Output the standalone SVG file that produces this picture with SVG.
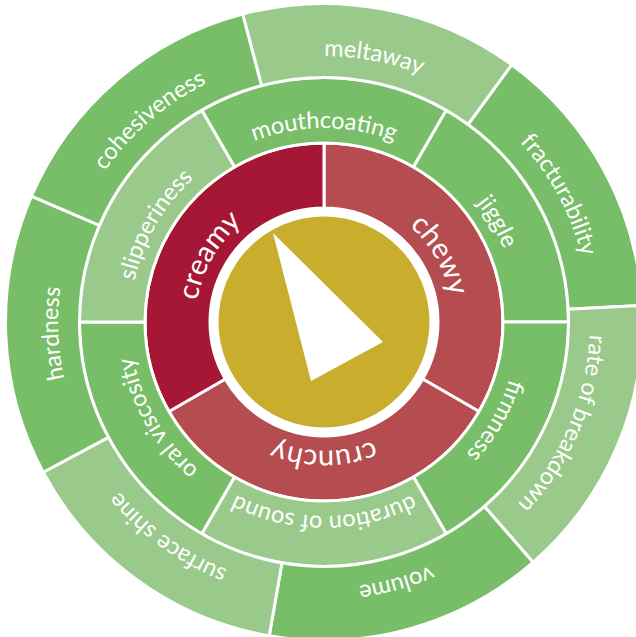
<svg xmlns="http://www.w3.org/2000/svg" xmlns:xlink="http://www.w3.org/1999/xlink" width="636" height="637" viewBox="0 0 636 637">
  <style>
    .seg { stroke: #ffffff; stroke-width: 3; stroke-linejoin: miter; }
    .dark { fill: #78BE68; }
    .light { fill: #99CA8B; }
    .deep { fill: #A51735; }
    .rose { fill: #B44C50; }
    .lbl { font-family: Lato, "Open Sans", "DejaVu Sans", sans-serif; fill: #ffffff; text-anchor: middle; }
    .g { font-size: 23.5px; }
    .r { font-size: 29px; }
  </style>
  <defs>
    <!-- baseline arcs centred on the top, rotated into place per label -->
    <path id="arcRed" d="M-126.6,-22.32 A128.55,128.55 0 0 1 126.6,-22.32"/>
    <path id="arcMid" d="M-190.95,-33.67 A193.9,193.9 0 0 1 190.95,-33.67"/>
    <path id="arcOut" d="M-261.86,-46.17 A265.9,265.9 0 0 1 261.86,-46.17"/>
  </defs>

  <!-- hub -->
  <g id="hub">
    <circle cx="324" cy="322" r="105.5" fill="#C9AE2E"/>
    <polygon points="273,233 383,342 311,381" fill="#ffffff"/>
  </g>

  <!-- inner ring -->
  <g id="chewy">
    <path class="seg rose" d="M324,143 A179,179 0 0 1 479.02,411.5 L422.73,379 A114,114 0 0 0 324,208 Z"/>
    <text class="lbl r" transform="translate(324 322) rotate(60)"><textPath xlink:href="#arcRed" startOffset="50%">chewy</textPath></text>
  </g>
  <g id="crunchy">
    <path class="seg rose" d="M479.02,411.5 A179,179 0 0 1 168.98,411.5 L225.27,379 A114,114 0 0 0 422.73,379 Z"/>
    <text class="lbl r" transform="translate(324 322) rotate(180)"><textPath xlink:href="#arcRed" startOffset="50%">crunchy</textPath></text>
  </g>
  <g id="creamy">
    <path class="seg deep" d="M168.98,411.5 A179,179 0 0 1 324,143 L324,208 A114,114 0 0 0 225.27,379 Z"/>
    <text class="lbl r" transform="translate(324 322) rotate(300)"><textPath xlink:href="#arcRed" startOffset="50%">creamy</textPath></text>
  </g>

  <!-- middle ring -->
  <g id="mouthcoating">
    <path class="seg dark" d="M201.75,110.26 A244.5,244.5 0 0 1 446.25,110.26 L413.5,166.98 A179,179 0 0 0 234.5,166.98 Z"/>
    <text class="lbl g" transform="translate(324 322)"><textPath xlink:href="#arcMid" startOffset="50%">mouthcoating</textPath></text>
  </g>
  <g id="jiggle">
    <path class="seg dark" d="M446.25,110.26 A244.5,244.5 0 0 1 568.5,322 L503,322 A179,179 0 0 0 413.5,166.98 Z"/>
    <text class="lbl g" transform="translate(324 322) rotate(60)"><textPath xlink:href="#arcMid" startOffset="50%">jiggle</textPath></text>
  </g>
  <g id="firmness">
    <path class="seg dark" d="M568.5,322 A244.5,244.5 0 0 1 446.25,533.74 L413.5,477.02 A179,179 0 0 0 503,322 Z"/>
    <text class="lbl g" transform="translate(324 322) rotate(120)"><textPath xlink:href="#arcMid" startOffset="50%">firmness</textPath></text>
  </g>
  <g id="duration-of-sound">
    <path class="seg light" d="M446.25,533.74 A244.5,244.5 0 0 1 201.75,533.74 L234.5,477.02 A179,179 0 0 0 413.5,477.02 Z"/>
    <text class="lbl g" transform="translate(324 322) rotate(180)"><textPath xlink:href="#arcMid" startOffset="50%">duration of sound</textPath></text>
  </g>
  <g id="oral-viscosity">
    <path class="seg dark" d="M201.75,533.74 A244.5,244.5 0 0 1 79.5,322 L145,322 A179,179 0 0 0 234.5,477.02 Z"/>
    <text class="lbl g" transform="translate(324 322) rotate(240)"><textPath xlink:href="#arcMid" startOffset="50%">oral viscosity</textPath></text>
  </g>
  <g id="slipperiness">
    <path class="seg light" d="M79.5,322 A244.5,244.5 0 0 1 201.75,110.26 L234.5,166.98 A179,179 0 0 0 145,322 Z"/>
    <text class="lbl g" transform="translate(324 322) rotate(300)"><textPath xlink:href="#arcMid" startOffset="50%">slipperiness</textPath></text>
  </g>

  <!-- outer ring -->
  <g id="meltaway">
    <path class="seg light" d="M242.64,14.07 A318.5,318.5 0 0 1 511.79,64.75 L468.16,124.52 A244.5,244.5 0 0 0 261.54,85.61 Z"/>
    <text class="lbl g" transform="translate(324 322) rotate(10.67)"><textPath xlink:href="#arcOut" startOffset="50%">meltaway</textPath></text>
  </g>
  <g id="fracturability">
    <path class="seg dark" d="M511.79,64.75 A318.5,318.5 0 0 1 642.06,305.33 L568.17,309.2 A244.5,244.5 0 0 0 468.16,124.52 Z"/>
    <text class="lbl g" transform="translate(324 322) rotate(61.57)"><textPath xlink:href="#arcOut" startOffset="50%">fracturability</textPath></text>
  </g>
  <g id="rate-of-breakdown">
    <path class="seg light" d="M642.06,305.33 A318.5,318.5 0 0 1 533.01,562.32 L484.45,506.49 A244.5,244.5 0 0 0 568.17,309.2 Z"/>
    <text class="lbl g" transform="translate(324 322) rotate(113)"><textPath xlink:href="#arcOut" startOffset="50%">rate of breakdown</textPath></text>
  </g>
  <g id="volume">
    <path class="seg dark" d="M533.01,562.32 A318.5,318.5 0 0 1 269.24,635.76 L281.96,562.86 A244.5,244.5 0 0 0 484.45,506.49 Z"/>
    <text class="lbl g" transform="translate(324 322) rotate(164.45)"><textPath xlink:href="#arcOut" startOffset="50%">volume</textPath></text>
  </g>
  <g id="surface-shine">
    <path class="seg light" d="M269.24,635.76 A318.5,318.5 0 0 1 43.19,472.3 L108.43,437.38 A244.5,244.5 0 0 0 281.96,562.86 Z"/>
    <text class="lbl g" transform="translate(324 322) rotate(215.87)"><textPath xlink:href="#arcOut" startOffset="50%">surface shine</textPath></text>
  </g>
  <g id="hardness">
    <path class="seg dark" d="M43.19,472.3 A318.5,318.5 0 0 1 31.41,196.17 L99.39,225.4 A244.5,244.5 0 0 0 108.43,437.38 Z"/>
    <text class="lbl g" transform="translate(324 322) rotate(267.56)"><textPath xlink:href="#arcOut" startOffset="50%">hardness</textPath></text>
  </g>
  <g id="cohesiveness">
    <path class="seg dark" d="M31.41,196.17 A318.5,318.5 0 0 1 242.64,14.07 L261.54,85.61 A244.5,244.5 0 0 0 99.39,225.4 Z"/>
    <text class="lbl g" transform="translate(324 322) rotate(319.24)"><textPath xlink:href="#arcOut" startOffset="50%">cohesiveness</textPath></text>
  </g>
</svg>
